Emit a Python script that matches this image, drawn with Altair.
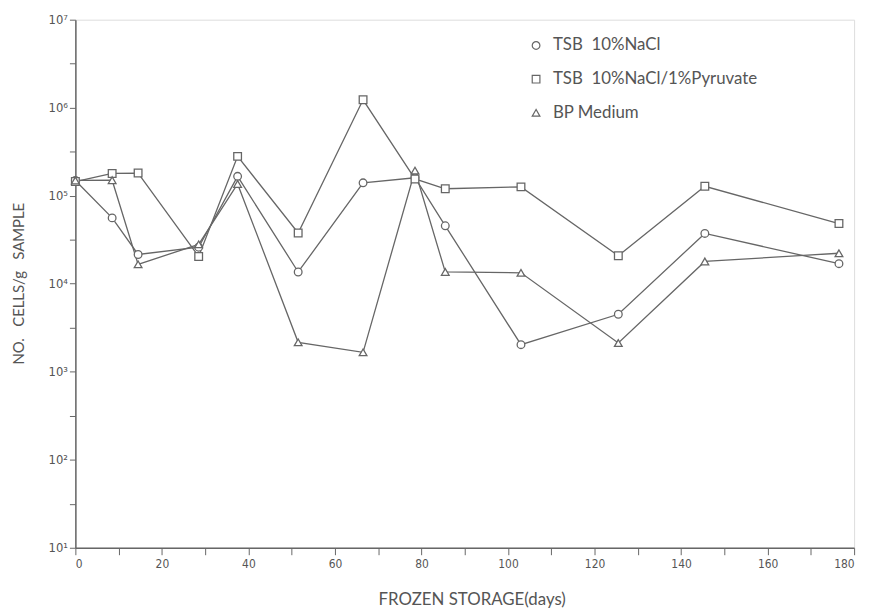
import altair as alt
import pandas as pd

days = [0, 8.5, 14.5, 28.5, 37.5, 51.5, 66.5, 78.5, 85.5, 103, 125.5, 145.5, 176.5]
tsb_nacl = [1.49e5, 5.6e4, 2.15e4, 2.6e4, 1.66e5, 1.36e4, 1.4e5, 1.6e5, 4.55e4, 2.03e3, 4.5e3, 3.73e4, 1.69e4]
tsb_pyruvate = [1.45e5, 1.79e5, 1.81e5, 2.04e4, 2.8e5, 3.77e4, 1.23e6, 1.55e5, 1.2e5, 1.26e5, 2.08e4, 1.28e5, 4.83e4]
bp_medium = [1.49e5, 1.5e5, 1.66e4, 2.8e4, 1.36e5, 2.16e3, 1.66e3, 1.93e5, 1.36e4, 1.33e4, 2.12e3, 1.79e4, 2.22e4]

series_names = ["TSB\u00a0\u00a010%NaCl", "TSB\u00a0\u00a010%NaCl/1%Pyruvate", "BP\u00a0Medium"]
series_values = [tsb_nacl, tsb_pyruvate, bp_medium]
series_shapes = ["circle", "square", "triangle-up"]

rows = []
for name, vals in zip(series_names, series_values):
    for d, v in zip(days, vals):
        rows.append({"day": d, "cells": v, "series": name})
df = pd.DataFrame(rows)
legend_df = pd.DataFrame({"series": series_names})

x_ticks = list(range(0, 181, 10))
y_ticks = []
for n in range(1, 8):
    y_ticks.append(10 ** n)
    if n < 7:
        y_ticks.append(10 ** (n + 0.5))

ink = "#666666"
text_ink = "#555555"
title_font = "Lato"
tick_font = "Liberation Sans Narrow, DejaVu Sans Condensed, sans-serif"

shape_scale = alt.Scale(domain=series_names, range=series_shapes)

x_enc = alt.X(
    "day:Q",
    scale=alt.Scale(domain=[0, 180], nice=False, zero=False),
    axis=alt.Axis(
        values=x_ticks,
        labelExpr="datum.value % 20 == 0 ? datum.label : ''",
        title="FROZEN STORAGE(days)",
        titleFont=title_font,
        titleFontSize=17,
        titleFontWeight="normal",
        titleColor=text_ink,
        titleX=400,
        titleY=52,
        titleBaseline="middle",
        labelFont=tick_font,
        labelFontSize=12,
        labelColor=text_ink,
        labelPadding=4,
        tickSize=7,
        tickColor=ink,
        domainColor=ink,
        domainWidth=1.5,
        grid=False,
    ),
)

y_enc = alt.Y(
    "cells:Q",
    scale=alt.Scale(type="log", domain=[10, 1e7], nice=False),
    axis=alt.Axis(
        values=y_ticks,
        labelExpr="abs(log(datum.value)/LN10 - round(log(datum.value)/LN10)) > 0.1 ? '' : '10' + ['\u2070','\u00b9','\u00b2','\u00b3','\u2074','\u2075','\u2076','\u2077'][round(log(datum.value)/LN10)]",
        title="NO.\u00a0\u00a0\u00a0CELLS/g\u00a0\u00a0\u00a0SAMPLE",
        titleFont=title_font,
        titleFontSize=15,
        titleFontWeight="normal",
        titleColor=text_ink,
        titleX=-57,
        titleY=266,
        titleAngle=-90,
        titleBaseline="middle",
        labelFont=tick_font,
        labelFontSize=13,
        labelColor=text_ink,
        labelPadding=2,
        tickSize=6,
        tickColor=ink,
        domainColor=ink,
        domainWidth=1.5,
        grid=False,
    ),
)

base = alt.Chart(df)

lines = base.mark_line(color=ink, strokeWidth=1.3).encode(
    x=x_enc,
    y=y_enc,
    detail="series:N",
)

points = base.mark_point(
    filled=False, fill="white", fillOpacity=1, stroke=ink,
    strokeWidth=1.3, size=60, opacity=1
).encode(
    x="day:Q",
    y="cells:Q",
    shape=alt.Shape("series:N", scale=shape_scale, legend=None),
)

data_layer = alt.layer(lines, points)

legend_y = alt.Y(
    "series:N",
    scale=alt.Scale(domain=series_names, range=[26, 94], padding=0),
    axis=None,
)

legend_symbols = alt.Chart(legend_df).mark_point(
    filled=False, fill="white", fillOpacity=1, stroke=ink,
    strokeWidth=1.2, size=60, opacity=1
).encode(
    x=alt.value(465),
    y=legend_y,
    shape=alt.Shape("series:N", scale=shape_scale, legend=None),
)

legend_text = alt.Chart(legend_df).mark_text(
    align="left", baseline="middle", font=title_font, fontSize=17, color=text_ink
).encode(
    x=alt.value(482),
    y=legend_y,
    text="series:N",
)

legend_layer = alt.layer(legend_symbols, legend_text)

chart = (
    alt.layer(data_layer, legend_layer)
    .resolve_scale(y="independent")
    .properties(
        width=786,
        height=533,
        autosize=alt.AutoSizeParams(type="none"),
        padding={"left": 68, "top": 9, "right": 11, "bottom": 58},
    )
    .configure_view(stroke=None)
    .configure(background="white")
)

chart.save("out.html", embed_options={"renderer": "svg", "actions": False})
